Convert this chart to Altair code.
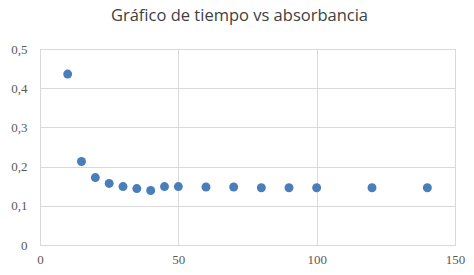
import altair as alt
import pandas as pd

tiempo = [10, 15, 20, 25, 30, 35, 40, 45, 50, 60, 70, 80, 90, 100, 120, 140]
absorbancia = [0.436, 0.213, 0.172, 0.157, 0.149, 0.144, 0.139, 0.149, 0.149,
               0.148, 0.148, 0.146, 0.146, 0.146, 0.146, 0.146]
x_ticks = [0, 50, 100, 150]
y_ticks = [0, 0.1, 0.2, 0.3, 0.4, 0.5]

df = pd.DataFrame({"tiempo": tiempo, "absorbancia": absorbancia})

label_font = "Liberation Serif"

chart = alt.Chart(df).mark_point(
    filled=True, size=80, color="#4A7EBB", opacity=1
).encode(
    x=alt.X("tiempo:Q", scale=alt.Scale(domain=[0, 150], nice=False),
            axis=alt.Axis(values=x_ticks, title=None, grid=True, ticks=False,
                          labelPadding=8, labelFontSize=13, labelFont=label_font,
                          labelColor="#595959", domainColor="#D9D9D9",
                          gridColor="#D9D9D9", labelFlush=False)),
    y=alt.Y("absorbancia:Q", scale=alt.Scale(domain=[0, 0.5], nice=False),
            axis=alt.Axis(values=y_ticks, title=None, grid=True, ticks=False,
                          labelExpr="replace(format(datum.value, ''), '.', ',')",
                          labelPadding=13, labelFontSize=13, labelFont=label_font,
                          labelColor="#595959", domainColor="#D9D9D9",
                          gridColor="#D9D9D9", labelFlush=False)),
).properties(
    width=415,
    height=196,
    autosize=alt.AutoSizeParams(type="none"),
    padding={"left": 40, "top": 49, "right": 19, "bottom": 30},
    title=alt.TitleParams("Gráfico de tiempo vs absorbancia", fontSize=16.5,
                          font="Open Sans", fontWeight="normal", color="#404040",
                          anchor="middle", dx=-8, offset=19),
).configure_view(stroke="#D9D9D9")

chart.save("out.html", embed_options={"renderer": "svg", "actions": False})
